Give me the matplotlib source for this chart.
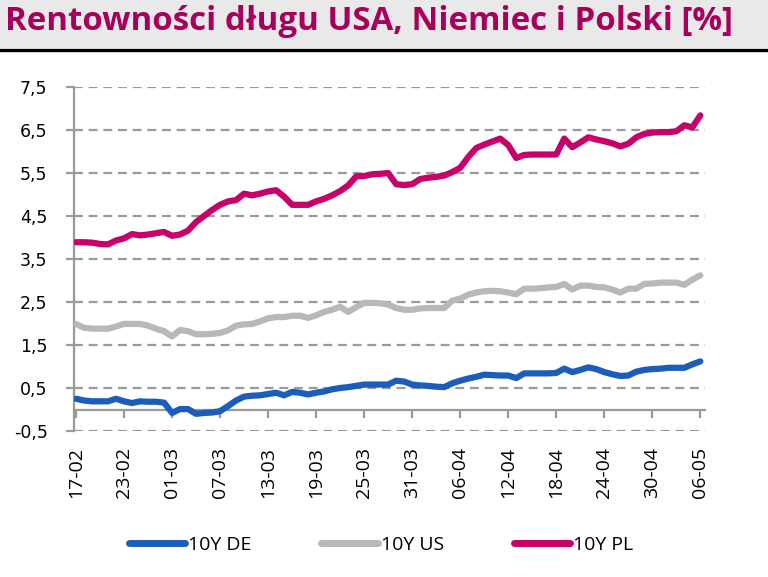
import matplotlib
matplotlib.use("Agg")
import matplotlib.pyplot as plt
import pandas as pd
from matplotlib.patches import Rectangle
from matplotlib.lines import Line2D

TITLE = "Rentowności długu USA, Niemiec i Polski [%]"

dates = pd.date_range("2022-02-17", "2022-05-06", freq="D")

yield_pl = [
    3.89, 3.89, 3.88, 3.85, 3.84, 3.93, 3.98, 4.08, 4.05, 4.07,
    4.10, 4.13, 4.04, 4.07, 4.16, 4.36, 4.50, 4.64, 4.76, 4.84,
    4.87, 5.02, 4.98, 5.02, 5.07, 5.10, 4.95, 4.76, 4.76, 4.76,
    4.84, 4.90, 4.98, 5.08, 5.21, 5.42, 5.43, 5.47, 5.48, 5.50,
    5.24, 5.22, 5.24, 5.36, 5.39, 5.41, 5.44, 5.52, 5.62, 5.87,
    6.08, 6.16, 6.23, 6.30, 6.15, 5.85, 5.92, 5.93, 5.93, 5.93,
    5.93, 6.30, 6.10, 6.21, 6.33, 6.28, 6.24, 6.19, 6.12, 6.18,
    6.33, 6.41, 6.44, 6.45, 6.45, 6.47, 6.61, 6.56, 6.84,
]
yield_us = [
    1.99, 1.90, 1.88, 1.88, 1.88, 1.93, 1.99, 1.99, 1.99, 1.95,
    1.88, 1.82, 1.70, 1.85, 1.82, 1.75, 1.75, 1.76, 1.78, 1.84,
    1.95, 1.98, 1.99, 2.05, 2.12, 2.15, 2.15, 2.18, 2.18, 2.13,
    2.19, 2.27, 2.32, 2.39, 2.27, 2.38, 2.48, 2.48, 2.47, 2.44,
    2.36, 2.32, 2.32, 2.35, 2.36, 2.36, 2.36, 2.53, 2.58, 2.67,
    2.72, 2.75, 2.76, 2.75, 2.72, 2.68, 2.81, 2.81, 2.82, 2.84,
    2.85, 2.92, 2.79, 2.88, 2.88, 2.85, 2.84, 2.79, 2.72, 2.81,
    2.81, 2.92, 2.93, 2.95, 2.95, 2.95, 2.90, 3.02, 3.12,
]
yield_de = [
    0.25, 0.21, 0.19, 0.19, 0.19, 0.25, 0.19, 0.15, 0.19, 0.18,
    0.18, 0.16, -0.08, 0.01, 0.01, -0.10, -0.08, -0.07, -0.04, 0.08,
    0.21, 0.30, 0.32, 0.33, 0.36, 0.39, 0.33, 0.41, 0.39, 0.35,
    0.39, 0.42, 0.47, 0.50, 0.52, 0.55, 0.58, 0.58, 0.58, 0.58,
    0.67, 0.65, 0.58, 0.56, 0.55, 0.53, 0.52, 0.61, 0.67, 0.72,
    0.76, 0.81, 0.80, 0.79, 0.79, 0.73, 0.84, 0.84, 0.84, 0.84,
    0.85, 0.95, 0.87, 0.92, 0.98, 0.94, 0.87, 0.82, 0.78, 0.79,
    0.88, 0.92, 0.94, 0.95, 0.97, 0.97, 0.97, 1.05, 1.12,
]

series = [
    ("10Y DE", yield_de, "#1c5dbb"),
    ("10Y US", yield_us, "#b8b8b8"),
    ("10Y PL", yield_pl, "#c8006a"),
]
y_ticks = [-0.5, 0.5, 1.5, 2.5, 3.5, 4.5, 5.5, 6.5, 7.5]
x_tick_labels = ["17-02", "23-02", "01-03", "07-03", "13-03", "19-03", "25-03",
                 "31-03", "06-04", "12-04", "18-04", "24-04", "30-04", "06-05"]

GRID = "#9a9a9a"

fig = plt.figure(figsize=(7.68, 5.77), dpi=100)

# title band
fig.patches.append(Rectangle((0, 1 - 48 / 577), 1, 48 / 577, transform=fig.transFigure,
                             facecolor="#e9e9e9", edgecolor="none", zorder=0))
fig.lines.append(Line2D([0, 1], [1 - 49.5 / 577] * 2, transform=fig.transFigure,
                        color="black", lw=2.4))
fig.text(0.006, 1 - 21 / 577, TITLE, fontsize=23.8, fontweight="bold",
         family="Open Sans", color="#a8005a", va="center", ha="left")

ax = fig.add_axes([74 / 768, 146 / 577, 631 / 768, 344 / 577])

for label, vals, color in series:
    ax.plot(dates, vals, color=color, lw=4.5, label=label,
            solid_capstyle="round", solid_joinstyle="round", zorder=3)

# spines first: set_position resets the ticks
for s in ["top", "right"]:
    ax.spines[s].set_visible(False)
ax.spines["bottom"].set_position(("data", 0))
ax.spines["left"].set_bounds(-0.5, 7.5)
for s in ["bottom", "left"]:
    ax.spines[s].set_color(GRID)
    ax.spines[s].set_linewidth(1.6)
    ax.spines[s].set_zorder(2)

ax.set_xlim(dates[0] - pd.Timedelta(hours=6), dates[-1] + pd.Timedelta(hours=14))
ax.set_ylim(-0.5, 7.5)
ax.set_yticks(y_ticks)
ax.set_yticklabels([f"{v:.1f}".replace(".", ",") for v in y_ticks],
                   fontsize=12.5, family="DejaVu Sans")
for v in y_ticks:
    ax.axhline(v, color=GRID, lw=1.6, ls=(0, (4, 2.6)), zorder=1)

ax.set_xticks(dates[::6])
ax.set_xticklabels(x_tick_labels, rotation=90, fontsize=14, family="Open Sans")

ax.tick_params(axis="y", direction="out", length=6, width=1.6, color=GRID, pad=13)
ax.tick_params(axis="x", direction="out", length=6, width=1.6, color=GRID, pad=21)

leg = fig.legend(loc="center", bbox_to_anchor=(0.496, 0.056), ncol=3, frameon=False,
                 prop={"family": "Open Sans", "size": 14}, handlelength=2.9,
                 handletextpad=0.15, columnspacing=3.6)
for h in leg.get_lines():
    h.set_linewidth(5)
    h.set_solid_capstyle("round")

fig.savefig("out.png", dpi=100)
